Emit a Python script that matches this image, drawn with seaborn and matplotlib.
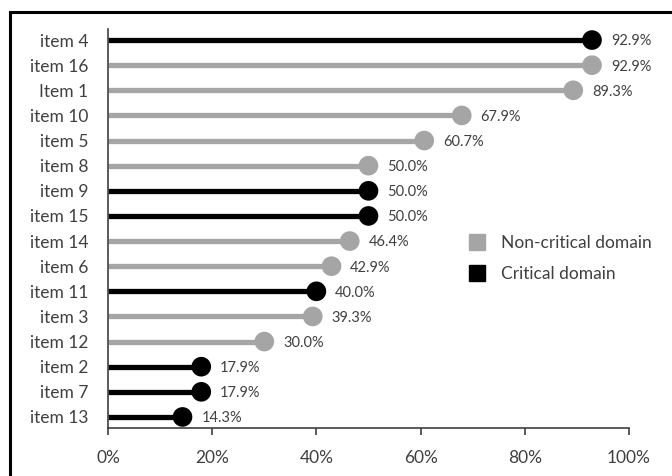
import numpy as np
import pandas as pd
import seaborn as sns
import matplotlib.pyplot as plt
from matplotlib.lines import Line2D
from matplotlib.patches import Rectangle
from matplotlib.ticker import PercentFormatter

# Data (top to bottom as shown)
items = ["item 4", "item 16", "Item 1", "item 10", "item 5", "item 8", "item 9",
         "item 15", "item 14", "item 6", "item 11", "item 3", "item 12", "item 2",
         "item 7", "item 13"]
values = [92.9, 92.9, 89.3, 67.9, 60.7, 50.0, 50.0, 50.0, 46.4, 42.9, 40.0,
          39.3, 30.0, 17.9, 17.9, 14.3]
domains = ["Critical", "Non-critical", "Non-critical", "Non-critical", "Non-critical",
           "Non-critical", "Critical", "Critical", "Non-critical", "Non-critical",
           "Critical", "Non-critical", "Non-critical", "Critical", "Critical", "Critical"]

GRAY = "#a5a5a5"
BLACK = "#000000"
TEXT = "#404040"
palette = {"Non-critical": GRAY, "Critical": BLACK}

df = pd.DataFrame({"item": items, "value": values, "domain": domains})
df["pos"] = np.arange(len(df))

sns.set_theme(style="white")
plt.rcParams["font.family"] = ["Lato", "DejaVu Sans"]

fig = plt.figure(figsize=(6.72, 4.76), dpi=100)
ax = fig.add_axes([108 / 672, 1 - 428 / 476, (629 - 108) / 672, (428 - 29) / 476])

# stems
ax.hlines(df["pos"], 0, df["value"], colors=df["domain"].map(palette), lw=3.8, zorder=2)

# dots
sns.scatterplot(data=df, x="value", y="pos", hue="domain", palette=palette,
                s=200, edgecolor="none", legend=False, ax=ax, zorder=3)

for _, r in df.iterrows():
    ax.annotate(f"{r['value']:.1f}%", (r["value"], r["pos"]), xytext=(13.5, -1),
                textcoords="offset points", va="center", ha="left",
                fontsize=10.5, color=TEXT)

ax.set_xlim(0, 100)
ax.set_ylim(len(df) - 1 + 0.44, -0.44)
ax.set_yticks(df["pos"])
ax.set_yticklabels(df["item"])
ax.set_xticks([0, 20, 40, 60, 80, 100])
ax.xaxis.set_major_formatter(PercentFormatter(decimals=0))
ax.set_xlabel("")
ax.set_ylabel("")

for s in ["top", "right"]:
    ax.spines[s].set_visible(False)
for s in ["left", "bottom"]:
    ax.spines[s].set_color("#404040")
    ax.spines[s].set_linewidth(1.2)

ax.tick_params(axis="y", length=0, pad=14, labelsize=12.5, labelcolor=TEXT)
ax.tick_params(axis="x", length=5, width=1.2, color="#404040", direction="out",
               bottom=True, pad=11, labelsize=12.5, labelcolor=TEXT)

# legend
handles = [Line2D([], [], ls="none", marker="s", markersize=11.5, color=GRAY,
                  label="Non-critical domain"),
           Line2D([], [], ls="none", marker="s", markersize=11.5, color=BLACK,
                  label="Critical domain")]
fig.legend(handles=handles, loc="upper left", bbox_to_anchor=(460 / 672, 1 - 226 / 476),
           frameon=False, fontsize=12.5, labelcolor=TEXT, borderpad=0,
           handlelength=1.0, handletextpad=0.85, labelspacing=0.9)

# outer frame (cropped at right and bottom)
fig.add_artist(Rectangle((10 / 672, -0.05), 1.0, 1 - 12 / 476 + 0.05,
                         transform=fig.transFigure, fill=False, lw=2.2, ec="black"))

fig.savefig("out.png", dpi=100)
